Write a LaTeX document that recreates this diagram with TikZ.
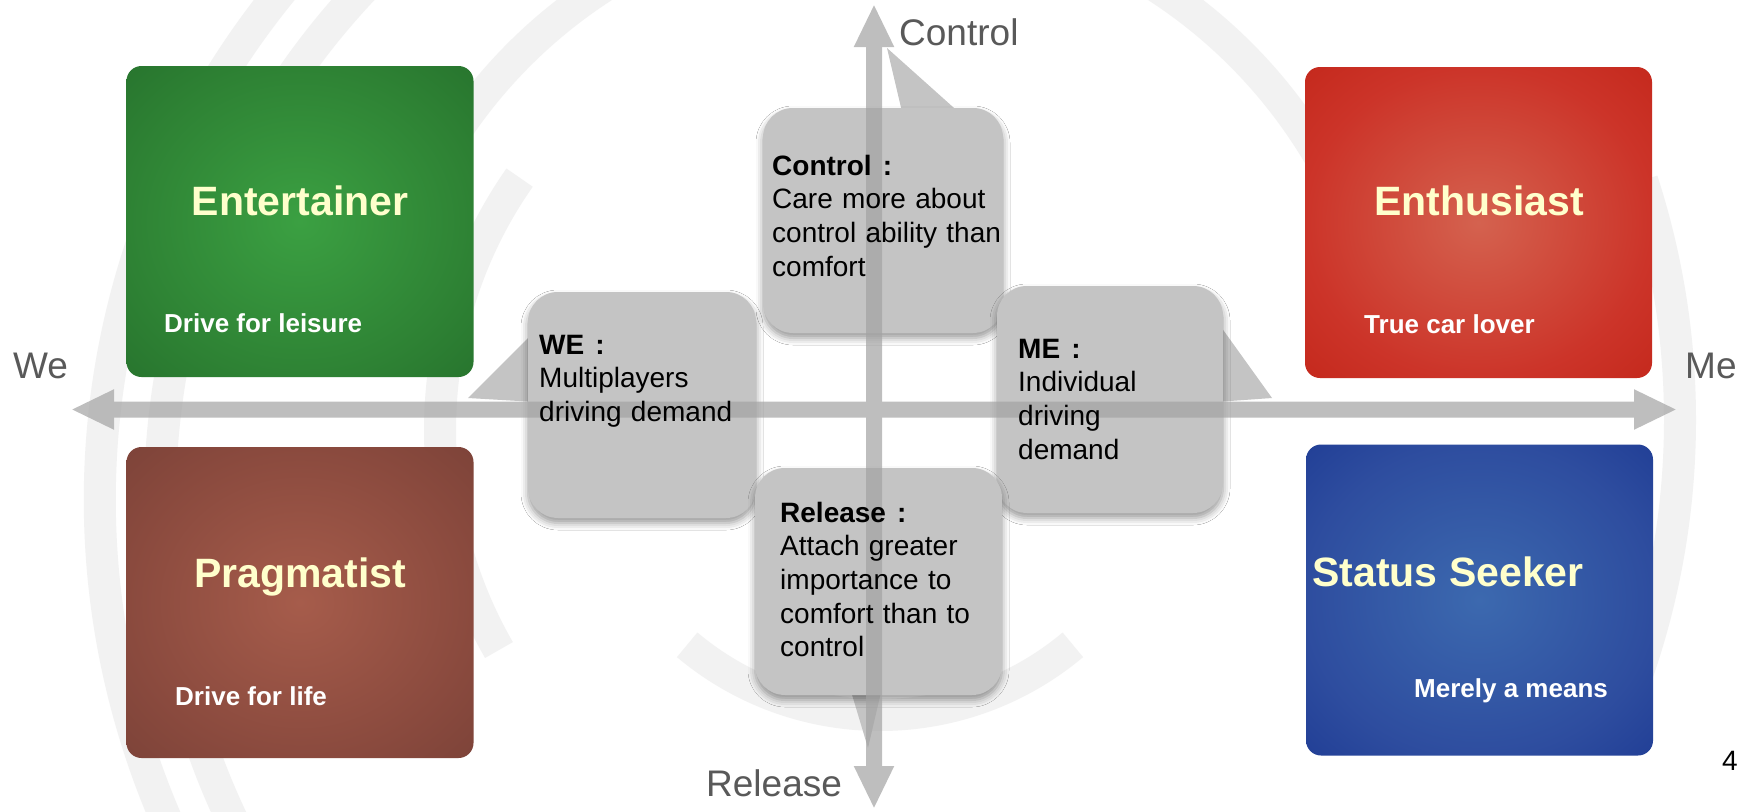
\documentclass[tikz,border=0pt]{standalone}
\usepackage{fontspec}
\setmainfont{Liberation Sans}
\usetikzlibrary{arrows.meta,shadows.blur}

\definecolor{titreJaune}{HTML}{FFFFCC}
\definecolor{bulleGris}{HTML}{C4C4C4}
\definecolor{axeGris}{HTML}{A3A3A3}
\definecolor{poleGris}{HTML}{595959}
\definecolor{fondGris}{HTML}{F2F2F2}
\definecolor{vertC}{HTML}{3BA042}\definecolor{vertM}{HTML}{2E8234}\definecolor{vertB}{HTML}{1F6326}
\definecolor{rougeC}{HTML}{D4624F}\definecolor{rougeM}{HTML}{CC3429}\definecolor{rougeB}{HTML}{BA1A0C}
\definecolor{brunC}{HTML}{A65C4B}\definecolor{brunM}{HTML}{8A4A3E}\definecolor{brunB}{HTML}{6C3A32}
\definecolor{bleuC}{HTML}{3C69AF}\definecolor{bleuM}{HTML}{2E4D9F}\definecolor{bleuB}{HTML}{112C8A}

\pgfdeclareradialshading{fondvert}{\pgfpoint{0bp}{0bp}}{color(0bp)=(vertC); color(25bp)=(vertM); color(50bp)=(vertB)}
\pgfdeclareradialshading{fondrouge}{\pgfpoint{0bp}{0bp}}{color(0bp)=(rougeC); color(25bp)=(rougeM); color(50bp)=(rougeB)}
\pgfdeclareradialshading{fondbrun}{\pgfpoint{0bp}{0bp}}{color(0bp)=(brunC); color(25bp)=(brunM); color(50bp)=(brunB)}
\pgfdeclareradialshading{fondbleu}{\pgfpoint{0bp}{0bp}}{color(0bp)=(bleuC); color(25bp)=(bleuM); color(50bp)=(bleuB)}

\begin{document}
\begin{tikzpicture}[x=1pt,y=-1pt,
    carte/.style={shade,rounded corners=15pt,inner sep=0pt,minimum width=347pt,minimum height=311pt},
    titre/.style={anchor=base,inner sep=0pt,text=titreJaune,font=\fontsize{41}{49}\selectfont\bfseries},
    soustitre/.style={anchor=base west,inner sep=0pt,text=white,font=\fontsize{26}{31}\selectfont\bfseries},
    bulle/.style={fill=bulleGris,rounded corners=30pt,inner sep=0pt,
        blur shadow={shadow xshift=0pt,shadow yshift=-5pt,shadow blur radius=7pt,shadow opacity=40}},
    queue/.style={fill=bulleGris},
    texte/.style={anchor=base west,inner sep=0pt,align=left,text width=235pt,font=\fontsize{28}{33.7}\selectfont},
    axe/.style={draw=axeGris,line width=16pt,>={Triangle[length=43pt,width=37pt]},<->},
    pole/.style={anchor=base west,inner sep=0pt,text=poleGris,font=\fontsize{37}{44}\selectfont},
    filigrane/.style={draw=fondGris,line width=32pt}]
  \useasboundingbox[fill=white] (0,0) rectangle (1752,811);

  % filigrane
  \draw[filigrane] (905,500) ++(112:805) arc[start angle=112,end angle=250,radius=805];
  \draw[filigrane] (905,500) ++(140:745) arc[start angle=140,end angle=232,radius=745];
  \draw[filigrane] (905,420) ++(-18:775) arc[start angle=-18,end angle=24,radius=775];
  \draw[filigrane] (880,415) ++(200:510) arc[start angle=200,end angle=335,radius=510];
  \draw[filigrane] (880,430) ++(150:440) arc[start angle=150,end angle=215,radius=440];
  \draw[filigrane] (880,415) ++(50:300) arc[start angle=50,end angle=130,radius=300];

  % quadrants
  \node[carte,shading=fondvert]  (entertainer) at (300,221.5)  {};
  \node[carte,shading=fondrouge] (enthusiast)  at (1478.5,222.5) {};
  \node[carte,shading=fondbrun]  (pragmatist)  at (300,602.5)  {};
  \node[carte,shading=fondbleu]  (seeker)      at (1479.5,600) {};
  \node[titre] (entertainerT) at (300,215)  {Entertainer};
  \node[titre] (enthusiastT)  at (1479,215) {Enthusiast};
  \node[titre] (pragmatistT)  at (300,587)  {Pragmatist};
  \node[titre] (seekerT)      at (1448,586) {Status Seeker};
  \node[soustitre] (entertainerS) at (164,332)  {Drive for leisure};
  \node[soustitre] (enthusiastS)  at (1364,333) {True car lover};
  \node[soustitre] (pragmatistS)  at (175,705)  {Drive for life};
  \node[soustitre] (seekerS)      at (1414,697) {Merely a means};

  % bulles
  \fill[queue] (903,116) -- (887,48) -- (963,116) -- cycle;
  \fill[queue] (536,330) -- (468,398) -- (536,402) -- cycle;
  \fill[queue] (1216,320) -- (1272,398) -- (1216,402) -- cycle;
  \fill[queue] (850,688) -- (868,748) -- (882,688) -- cycle;
  \node[bulle,minimum width=240pt,minimum height=225pt] (bulleControl) at (883,220.5) {};
  \node[bulle,minimum width=228pt,minimum height=226pt] (bulleWe)      at (642,405)   {};
  \node[bulle,minimum width=226pt,minimum height=227pt] (bulleMe)      at (1110,399.5) {};
  \node[bulle,minimum width=247pt,minimum height=227pt] (bulleRelease) at (878.5,581.5) {};

  % axes
  \coordinate (axeW) at (71,409.5);  \coordinate (axeE) at (1677,409.5);
  \coordinate (axeS) at (874,809);   \coordinate (axeN) at (874,4);
  \begin{scope}[transparency group,opacity=0.7]
    \draw[axe] (axeW) -- (axeE);
    \draw[axe] (axeS) -- (axeN);
  \end{scope}
  \node[pole] (poleControl) at (899,45)  {Control};
  \node[pole] (poleRelease) at (706,796) {Release};
  \node[pole] (poleWe)      at (13,378)  {We};
  \node[pole] (poleMe)      at (1685,378) {Me};
  \node[anchor=base west,inner sep=0pt,font=\fontsize{28}{33}\selectfont] (page) at (1722,770) {4};

  % textes des bulles
  \node[texte] (txtControl) at (772,175) {\textbf{Control\hspace{0.4em}:}\\Care more about\\control ability than\\comfort};
  \node[texte] (txtWe)      at (539,354) {\textbf{WE\hspace{0.4em}:}\\Multiplayers\\driving demand};
  \node[texte] (txtMe)      at (1018,358) {\textbf{ME\hspace{0.4em}:}\\Individual\\driving\\demand};
  \node[texte] (txtRelease) at (780,522) {\textbf{Release\hspace{0.4em}:}\\Attach greater\\importance to\\comfort than to\\control};
\end{tikzpicture}
\end{document}
